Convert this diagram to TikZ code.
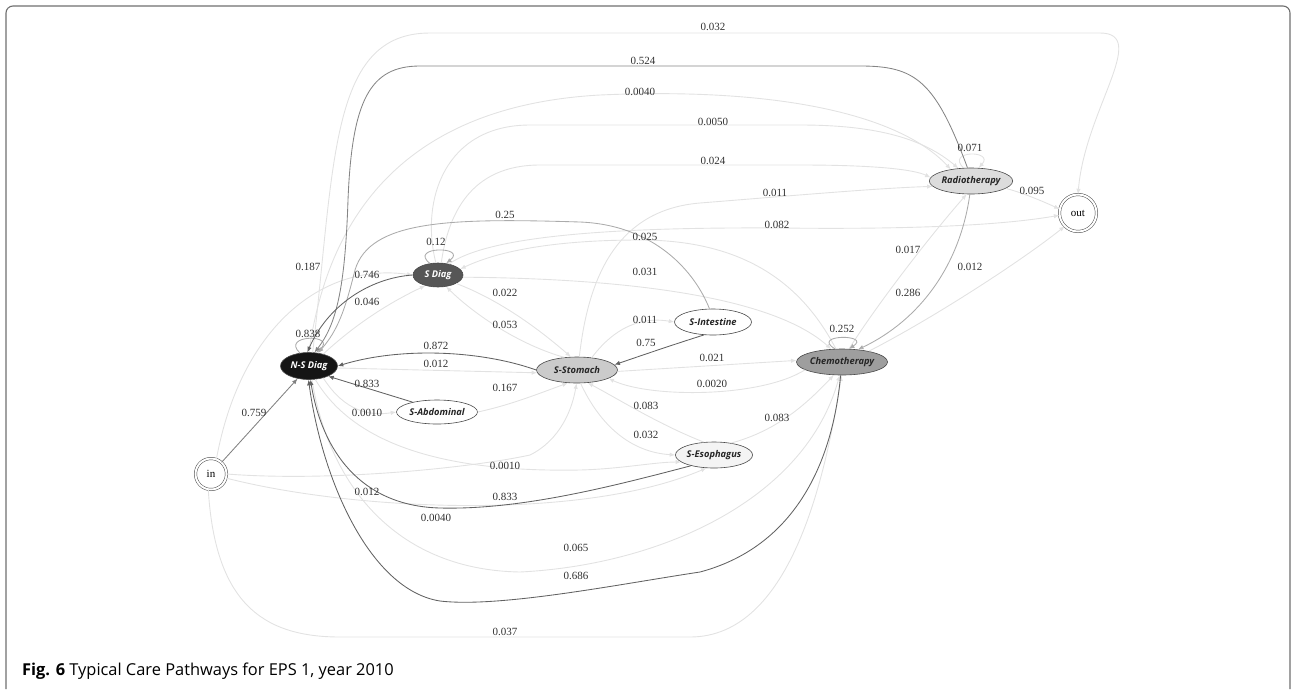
\documentclass[tikz,border=0pt]{standalone}
\usepackage{fontspec}
\setmainfont{Liberation Serif}
\setsansfont{Open Sans}
\usetikzlibrary{arrows.meta,shapes.geometric}
\definecolor{edgeDark}{HTML}{626262}
\definecolor{edgeMid}{HTML}{ABABAB}
\definecolor{edgeFaint}{HTML}{E2E2E2}
\definecolor{stateLine}{HTML}{4A4A4A}
\definecolor{labelText}{HTML}{303030}
\definecolor{frameGray}{HTML}{6E6E6E}
\definecolor{fillNS}{HTML}{151515}
\definecolor{fillS}{HTML}{565656}
\definecolor{fillStomach}{HTML}{CBCBCB}
\definecolor{fillChemo}{HTML}{9E9E9E}
\definecolor{fillRadio}{HTML}{DCDCDC}
\definecolor{fillEso}{HTML}{F4F4F4}
\tikzset{
  >={Latex[length=5.5pt,width=4.5pt]},
  state/.style={ellipse, draw=stateLine, line width=0.6pt, inner sep=0pt,
                font=\sffamily\bfseries\itshape\fontsize{9.3}{11}\selectfont, text=black!85},
  terminal/.style={circle, draw=stateLine, double, double distance=2pt, line width=0.5pt,
                   inner sep=0pt, font=\fontsize{11}{13}\selectfont},
  heavy/.style={->, draw=edgeDark, line width=0.85pt},
  medium/.style={->, draw=edgeMid, line width=0.85pt},
  faint/.style={->, draw=edgeFaint, line width=0.9pt},
  prob/.style={font=\fontsize{11}{13}\selectfont, text=labelText, inner sep=0pt}
}
\begin{document}
\begin{tikzpicture}[x=1pt, y=-1pt]
\useasboundingbox (0,0) rectangle (1292,689);

% frame and caption
\draw[frameGray, line width=1.1pt, rounded corners=7pt] (6,689) -- (6,6) -- (1290,6) -- (1290,689);
\node[anchor=base west, inner sep=0pt, font=\sffamily\fontsize{16.4}{18}\selectfont] (caption) at (22,675)
  {\textbf{Fig. 6} Typical Care Pathways for EPS 1, year 2010};

% states
\node[terminal, minimum size=31pt] (in) at (211,474) {in};
\node[terminal, minimum size=37pt] (out) at (1078,213) {out};
\node[state, fill=fillNS, text=white, minimum width=57pt, minimum height=27pt] (nsdiag) at (309,366) {N-S Diag};
\node[state, fill=fillS, text=white, minimum width=50pt, minimum height=24pt] (sdiag) at (438,275) {S Diag};
\node[state, fill=white, minimum width=81pt, minimum height=24pt] (sabd) at (437,412) {S-Abdominal};
\node[state, fill=fillStomach, minimum width=81pt, minimum height=26pt] (sstom) at (577,370) {S-Stomach};
\node[state, fill=white, minimum width=77pt, minimum height=26pt] (sint) at (713,322) {S-Intestine};
\node[state, fill=fillEso, minimum width=75pt, minimum height=26pt] (seso) at (714,455) {S-Esophagus};
\node[state, fill=fillChemo, minimum width=79pt, minimum height=26pt] (chemo) at (842,362) {Chemotherapy};
\node[state, fill=fillRadio, minimum width=75pt, minimum height=26pt] (radio) at (971,181) {Radiotherapy};

% faint transitions
\draw[faint] (nsdiag.75) .. controls (335,160) and (330,33) .. (430,33) -- (1100,33)
  .. controls (1150,33) and (1085,110) .. (out.north);
\draw[faint] (in.70) .. controls (240,330) and (320,262) .. (sdiag.west);
\draw[faint] (in.east) .. controls (330,482) and (470,468) .. (530,455)
  .. controls (560,440) and (572,410) .. (sstom.-92);
\draw[faint] (in.-15) .. controls (350,510) and (580,522) .. (seso.-120);
\draw[faint] (in.-100) .. controls (215,600) and (260,637) .. (340,637) -- (690,637)
  .. controls (790,637) and (825,480) .. (chemo.-92);
\draw[faint] (nsdiag.north) .. controls (330,200) and (420,105) .. (600,95)
  .. controls (780,87) and (900,115) .. (radio.150);
\draw[faint] (nsdiag.40) .. controls (360,320) and (395,300) .. (sdiag.-140);
\draw[faint] (nsdiag.-4) -- (sstom.184);
\draw[faint] (nsdiag.-40) .. controls (345,412) and (370,416) .. (sabd.west);
\draw[faint] (nsdiag.-65) .. controls (360,455) and (470,472) .. (580,470)
  .. controls (620,469) and (655,462) .. (seso.192);
\draw[faint] (nsdiag.-78) .. controls (330,490) and (400,570) .. (520,572)
  .. controls (660,565) and (805,500) .. (chemo.-100);
\draw[faint] (sdiag.100) .. controls (420,200) and (445,125) .. (530,125) -- (800,125)
  .. controls (880,125) and (925,140) .. (radio.135);
\draw[faint] (sdiag.75) .. controls (448,215) and (470,165) .. (540,165) -- (800,165)
  .. controls (880,165) and (915,170) .. (radio.175);
\draw[faint] (sdiag.45) .. controls (490,235) and (620,227) .. (780,228)
  .. controls (950,230) and (1020,222) .. (out.187);
\draw[faint] (chemo.115) .. controls (800,280) and (740,240) .. (640,240)
  .. controls (540,240) and (490,255) .. (sdiag.15);
\draw[faint] (sdiag.-5) .. controls (560,278) and (760,285) .. (chemo.130);
\draw[faint] (sdiag.-25) .. controls (500,300) and (540,330) .. (sstom.115);
\draw[faint] (sstom.135) .. controls (520,345) and (475,315) .. (sdiag.-55);
\draw[faint] (sabd.east) .. controls (510,405) and (535,395) .. (sstom.-125);
\draw[faint] (sstom.80) .. controls (588,280) and (615,210) .. (700,203)
  .. controls (800,195) and (880,188) .. (radio.188);
\draw[faint] (sstom.40) .. controls (620,320) and (650,318) .. (sint.west);
\draw[faint] (sstom.-2) -- (chemo.178);
\draw[faint] (chemo.192) .. controls (760,398) and (650,398) .. (sstom.-15);
\draw[faint] (seso.128) .. controls (660,425) and (620,400) .. (sstom.-50);
\draw[faint] (sstom.-75) .. controls (600,425) and (630,452) .. (seso.west);
\draw[faint] (seso.35) .. controls (780,430) and (810,400) .. (chemo.-122);
\draw[faint] (chemo.62) .. controls (880,300) and (935,230) .. (radio.-108);
\draw[faint] (chemo.22) .. controls (930,320) and (1020,262) .. (out.-135);
\draw[faint] (radio.-12) .. controls (1020,192) and (1040,200) .. (out.168);
\draw[faint] (radio.120) .. controls (945,150) and (995,150) .. (radio.60);

% medium transitions
\draw[medium] (sint.105) .. controls (695,272) and (655,225) .. (580,222)
  .. controls (450,218) and (370,220) .. (355,270) .. controls (345,310) and (338,330) .. (nsdiag.55);
\draw[medium] (radio.-95) .. controls (960,265) and (920,320) .. (chemo.38);
\draw[medium] (nsdiag.125) .. controls (280,334) and (338,334) .. (nsdiag.62);
\draw[medium] (sdiag.125) .. controls (408,246) and (468,246) .. (sdiag.55);
\draw[medium] (chemo.118) .. controls (810,334) and (872,334) .. (chemo.62);
\draw[medium, draw=black!48] (radio.105) .. controls (935,80) and (915,66) .. (860,66) -- (420,66)
  .. controls (370,66) and (352,100) .. (348,200) .. controls (345,290) and (336,325) .. (nsdiag.68);
\draw[medium, draw=black!50] (in) -- (nsdiag);

% heavy transitions
\draw[heavy] (sstom.west) .. controls (480,350) and (400,347) .. (nsdiag.east);
\draw[heavy] (sdiag.west) .. controls (370,278) and (328,305) .. (nsdiag.97);
\draw[heavy] (sabd.158) -- (nsdiag.-28);
\draw[heavy] (sint.-125) .. controls (672,345) and (640,356) .. (sstom.8);
\draw[heavy] (seso.205) .. controls (610,487) and (520,510) .. (440,508)
  .. controls (360,506) and (322,450) .. (nsdiag.-84);
\draw[heavy] (chemo.-96) .. controls (832,470) and (790,548) .. (700,572)
  .. controls (620,584) and (500,608) .. (440,601) .. controls (370,590) and (322,480) .. (nsdiag.-92);

% probabilities
\node[prob] (p0032) at (713,27) {0.032};
\node[prob] (p0524) at (643,61) {0.524};
\node[prob] (p00040a) at (640,92) {0.0040};
\node[prob] (p00050) at (713,122) {0.0050};
\node[prob] (p0024) at (713,161) {0.024};
\node[prob] (p0071) at (970,148) {0.071};
\node[prob] (p0011a) at (775,193) {0.011};
\node[prob] (p0095) at (1032,191) {0.095};
\node[prob] (p025) at (505,215) {0.25};
\node[prob] (p0082) at (777,225) {0.082};
\node[prob] (p0025) at (645,237) {0.025};
\node[prob] (p012) at (436,242) {0.12};
\node[prob] (p0017) at (908,250) {0.017};
\node[prob] (p0187) at (308,267) {0.187};
\node[prob] (p0012a) at (970,267) {0.012};
\node[prob] (p0031) at (645,272) {0.031};
\node[prob] (p0746) at (367,275) {0.746};
\node[prob] (p0022) at (505,293) {0.022};
\node[prob] (p0286) at (908,293) {0.286};
\node[prob] (p0046) at (367,302) {0.046};
\node[prob] (p0011b) at (645,320) {0.011};
\node[prob] (p0053) at (505,325) {0.053};
\node[prob] (p0252) at (842,329) {0.252};
\node[prob] (p0838) at (308,334) {0.838};
\node[prob] (p075) at (646,343) {0.75};
\node[prob] (p0872) at (436,346) {0.872};
\node[prob] (p0021) at (712,358) {0.021};
\node[prob] (p0012b) at (436,364) {0.012};
\node[prob] (p0833a) at (367,384) {0.833};
\node[prob] (p00020) at (712,384) {0.0020};
\node[prob] (p0167) at (505,388) {0.167};
\node[prob] (p0083a) at (646,406) {0.083};
\node[prob] (p0759) at (254,413) {0.759};
\node[prob] (p00010a) at (367,413) {0.0010};
\node[prob] (p0083b) at (777,418) {0.083};
\node[prob] (p0032b) at (646,435) {0.032};
\node[prob] (p00010b) at (505,466) {0.0010};
\node[prob] (p0012c) at (367,492) {0.012};
\node[prob] (p0833b) at (505,497) {0.833};
\node[prob] (p00040b) at (436,518) {0.0040};
\node[prob] (p0065) at (576,548) {0.065};
\node[prob] (p0686) at (576,576) {0.686};
\node[prob] (p0037) at (505,632) {0.037};

\end{tikzpicture}
\end{document}
